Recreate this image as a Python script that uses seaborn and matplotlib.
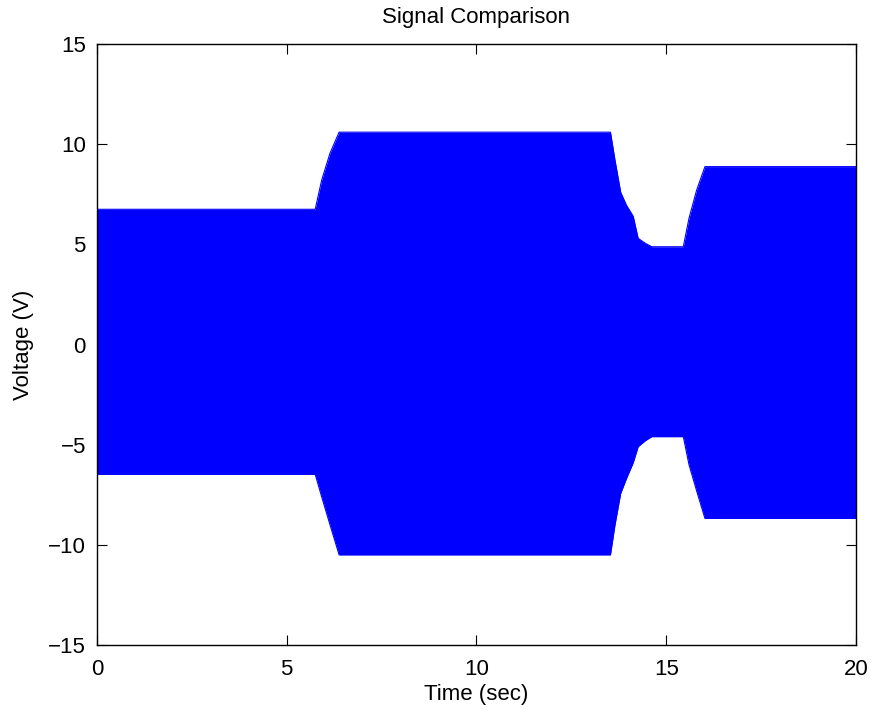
import numpy as np
import pandas as pd
import matplotlib
matplotlib.use("Agg")
import matplotlib.pyplot as plt
import seaborn as sns

# Envelope of the signal
time_s = [0, 5.75, 5.92, 6.14, 6.38, 13.53, 13.65, 13.8, 13.95, 14.13, 14.26, 14.45, 14.62, 15.45, 15.6, 15.8, 16.02, 20]
upper_v = [6.75, 6.75, 8.2, 9.55, 10.6, 10.6, 9.2, 7.6, 6.96, 6.4, 5.3, 5.05, 4.88, 4.88, 6.3, 7.7, 8.88, 8.88]
lower_v = [-6.48, -6.48, -7.6, -9.0, -10.5, -10.5, -9.0, -7.43, -6.7, -5.9, -5.1, -4.8, -4.6, -4.6, -6.0, -7.3, -8.68, -8.68]

x_ticks = [0, 5, 10, 15, 20]
y_ticks = [-15, -10, -5, 0, 5, 10, 15]

sns.set_theme(style="ticks")
plt.rcParams['font.family'] = ['Liberation Sans', 'DejaVu Sans']
plt.rcParams['axes.unicode_minus'] = True
plt.rcParams['text.color'] = 'black'
plt.rcParams['axes.labelcolor'] = 'black'

df = pd.DataFrame({"t": time_s, "up": upper_v, "lo": lower_v})

fig = plt.figure(figsize=(8.73, 7.09), dpi=100)
ax = fig.add_axes([0.1111, 0.0903, 0.8694, 0.8476])

ax.fill_between(df["t"], df["lo"], df["up"], color="#0000ff", linewidth=0)
sns.lineplot(data=df, x="t", y="up", ax=ax, color="#0000ff", linewidth=0.8)
sns.lineplot(data=df, x="t", y="lo", ax=ax, color="#0000ff", linewidth=0.8)

ax.set_xlim(0, 20)
ax.set_ylim(-15, 15)
ax.set_xticks(x_ticks)
ax.set_yticks(y_ticks)
ax.set_xticklabels([str(v) for v in x_ticks])
ax.set_yticklabels([str(v).replace('-', '\u2212') for v in y_ticks])
ax.tick_params(direction="in", length=7, width=0.8, top=True, right=True,
               labelsize=16, colors="black")
ax.tick_params(axis="x", pad=10)
ax.tick_params(axis="y", pad=8)
for s in ax.spines.values():
    s.set_visible(True)
    s.set_color("black")
    s.set_linewidth(1.0)
ax.set_xlabel("Time (sec)", fontsize=16, labelpad=3, color="black")
ax.set_ylabel("Voltage (V)", fontsize=16, labelpad=10, color="black")
ax.set_title("Signal Comparison", fontsize=16, pad=15, color="black")
ax.grid(False)
ax.set_facecolor("white")

fig.savefig("out.png", dpi=100)
